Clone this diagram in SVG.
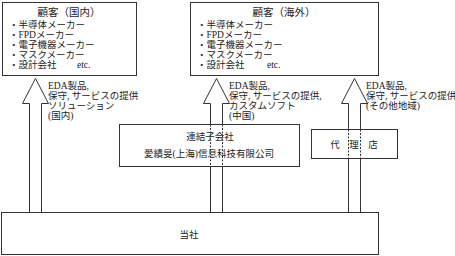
<svg xmlns="http://www.w3.org/2000/svg" width="455" height="256" viewBox="0 0 455 256">
<style>
.box{fill:#fff;stroke:#333;stroke-width:1}
.arr{fill:#fff;stroke:#333;stroke-width:1}
.dash{stroke:#333;stroke-width:1;stroke-dasharray:2,1.5}
text{font-family:"Liberation Serif","Noto Sans CJK JP",serif;font-size:9.5px;fill:#222}
.t{font-size:10.5px}
.c{text-anchor:middle}
</style>
<rect width="455" height="256" fill="#fff"/>
<g id="customer-domestic">
<rect class="box" x="2.5" y="2.5" width="134" height="73"/>
<text class="t c" x="69" y="16">顧客（国内）</text>
<text x="9" y="28">・半導体メーカー</text>
<text x="9" y="38">・FPDメーカー</text>
<text x="9" y="48">・電子機器メーカー</text>
<text x="9" y="58">・マスクメーカー</text>
<text x="9" y="68">・設計会社<tspan x="77">etc.</tspan></text>
</g>
<g id="customer-overseas">
<rect class="box" x="190.5" y="2.5" width="188" height="73"/>
<text class="t c" x="284" y="16">顧客（海外）</text>
<text x="197" y="28">・半導体メーカー</text>
<text x="197" y="38">・FPDメーカー</text>
<text x="197" y="48">・電子機器メーカー</text>
<text x="197" y="58">・マスクメーカー</text>
<text x="197" y="68">・設計会社<tspan x="267">etc.</tspan></text>
</g>
<g id="subsidiary">
<rect class="box" x="119.5" y="124.5" width="180" height="42"/>
<text class="c" x="210" y="140">連結子会社</text>
<text class="c" x="209" y="157">愛績旻(上海)信息科技有限公司</text>
</g>
<g id="agent">
<rect class="box" x="311.5" y="129.5" width="86" height="29"/>
<text class="c" x="354" y="148">代　理　店</text>
</g>
<g id="company">
<rect class="box" x="1.5" y="212.5" width="377" height="42"/>
<text class="c" x="189" y="238">当社</text>
</g>
<g id="connectors">
<polygon class="arr" points="29.5,212.5 29.5,103.5 22.5,103.5 35.5,78.5 48.5,103.5 41.5,103.5 41.5,212.5"/>
<polygon class="arr" points="210.5,124.5 210.5,103.5 203.5,103.5 216.5,78.5 229.5,103.5 222.5,103.5 222.5,124.5"/>
<line class="dash" x1="210.5" y1="124.5" x2="210.5" y2="166.5"/>
<line class="dash" x1="222.5" y1="124.5" x2="222.5" y2="166.5"/>
<line class="arr" x1="210.5" y1="166.5" x2="210.5" y2="212.5"/>
<line class="arr" x1="222.5" y1="166.5" x2="222.5" y2="212.5"/>
<polygon class="arr" points="348.5,129.5 348.5,103.5 341.5,103.5 354.5,78.5 367.5,103.5 360.5,103.5 360.5,129.5"/>
<line class="dash" x1="348.5" y1="129.5" x2="348.5" y2="158.5"/>
<line class="dash" x1="360.5" y1="129.5" x2="360.5" y2="158.5"/>
<line class="arr" x1="348.5" y1="158.5" x2="348.5" y2="212.5"/>
<line class="arr" x1="360.5" y1="158.5" x2="360.5" y2="212.5"/>
<text x="48" y="89">EDA製品,</text>
<text x="48" y="99">保守, サービスの提供</text>
<text x="48" y="109">ソリューション</text>
<text x="48" y="119">(国内)</text>
<text x="229" y="89">EDA製品,</text>
<text x="229" y="99">保守, サービスの提供,</text>
<text x="229" y="109">カスタムソフト</text>
<text x="229" y="119">(中国)</text>
<text x="366" y="89">EDA製品,</text>
<text x="366" y="99">保守, サービスの提供</text>
<text x="366" y="109">(その他地域)</text>
</g>
</svg>
